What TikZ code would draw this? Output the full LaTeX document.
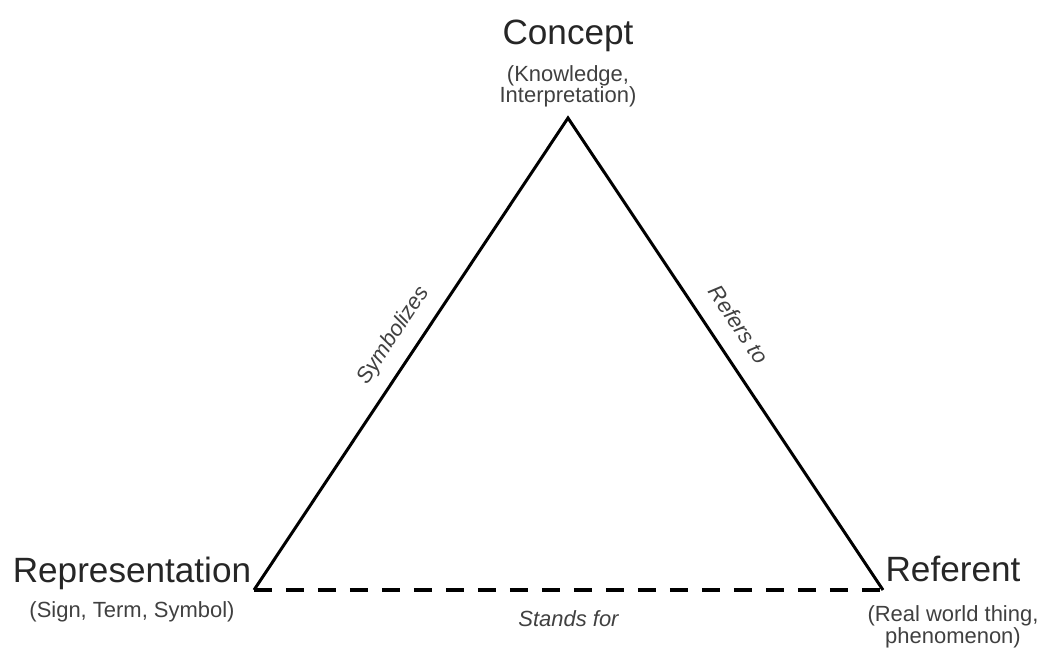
\documentclass[tikz,border=0pt]{standalone}
\usepackage{fontspec}
\setmainfont{Liberation Sans}
\usetikzlibrary{positioning}

\begin{document}
\begin{tikzpicture}[
      x=0.02cm, y=-0.02cm,
      side/.style={line width=1.7pt, black},
      link/.style={side, line width=1.9pt, dash pattern=on 0.36cm off 0.28cm},
      corner/.style={inner sep=0pt, text=black!85, font=\fontsize{20}{24}\selectfont},
      note/.style={inner sep=0pt, align=center, text=black!75, font=\fontsize{12.5}{12}\selectfont},
      role/.style={inner sep=0pt, text=black!75, font=\fontsize{12.5}{15}\selectfont\itshape}
    ]
      \useasboundingbox (0,0) rectangle (1056,648);
      % corners of the triangle
      \coordinate (apex) at (568,118);
      \coordinate (lcorner) at (254,590);
      \coordinate (rcorner) at (883,590);
      % corner labels
      \node[corner, anchor=base] (concept) at (568,45) {Concept};
      \node[note, below=0.26cm of concept] (conceptnote) {(Knowledge,\\Interpretation)};
      \node[corner, anchor=base] (repr) at (132,583) {Representation};
      \node[note, below=0.22cm of repr] (reprnote) {(Sign, Term, Symbol)};
      \node[corner, anchor=base] (referent) at (953,582) {Referent};
      \node[note, below=0.46cm of referent] (referentnote) {(Real world thing,\\phenomenon)};
      % sides
      \draw[side, line join=miter] (lcorner) -- node[role, sloped, above=0.26cm, pos=0.51] (symb) {Symbolizes} (apex)
        -- node[role, sloped, above=0.36cm, pos=0.47] (refers) {Refers to} (rcorner);
      \draw[link] (lcorner) -- node[role, below=0.38cm] (stands) {Stands for} (rcorner);
\end{tikzpicture}
\end{document}
